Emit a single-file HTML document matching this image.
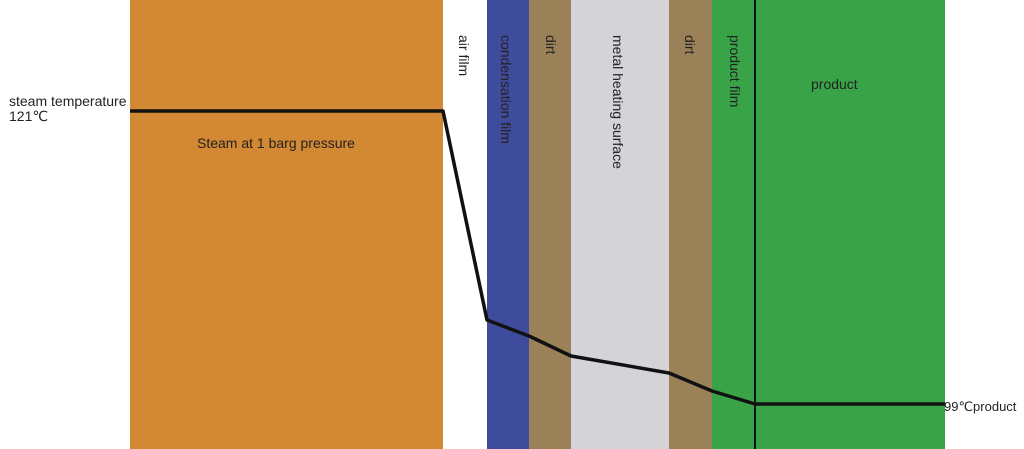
<!DOCTYPE html>
<html><head><meta charset="utf-8"><style>
body{margin:0;width:1024px;height:449px;background:#fff;position:relative;overflow:hidden;font-family:"Liberation Sans","DejaVu Sans",sans-serif;}
.b{position:absolute;top:0;height:449px}
.v{position:absolute;top:35px;font-size:14px;color:#222;writing-mode:vertical-rl;white-space:nowrap;line-height:15px}
.t{position:absolute;font-size:14px;color:#222;white-space:nowrap}
</style></head><body>
<div class="b" style="left:130px;width:313px;background:#d38833"></div>
<div class="b" style="left:487px;width:42px;background:#3f4c9c"></div>
<div class="b" style="left:529px;width:42px;background:#9b8158"></div>
<div class="b" style="left:571px;width:98px;background:#d4d3d8"></div>
<div class="b" style="left:669px;width:43px;background:#9b8158"></div>
<div class="b" style="left:712px;width:233px;background:#39a348"></div>
<svg style="position:absolute;left:0;top:0" width="1024" height="449">
<line x1="755" y1="0" x2="755" y2="449" stroke="#111" stroke-width="2"/>
<polyline points="130,111 443,111 487,320 529,336 571,356 669,373 712,391 755,404 945,404" fill="none" stroke="#111" stroke-width="3.5" stroke-linejoin="round"/>
</svg>
<div class="v" style="left:456px">air film</div>
<div class="v" style="left:498px">condensation film</div>
<div class="v" style="left:543px">dirt</div>
<div class="v" style="left:610px">metal heating surface</div>
<div class="v" style="left:682px">dirt</div>
<div class="v" style="left:727px">product film</div>
<div class="t" style="left:811px;top:76px">product</div>
<div class="t" style="left:197px;top:135px">Steam at 1 barg pressure</div>
<div class="t" style="left:9px;top:94px;line-height:15px">steam temperature<br>121℃</div>
<div class="t" style="left:944px;top:399px;font-size:13px">99℃product</div>
</body></html>
